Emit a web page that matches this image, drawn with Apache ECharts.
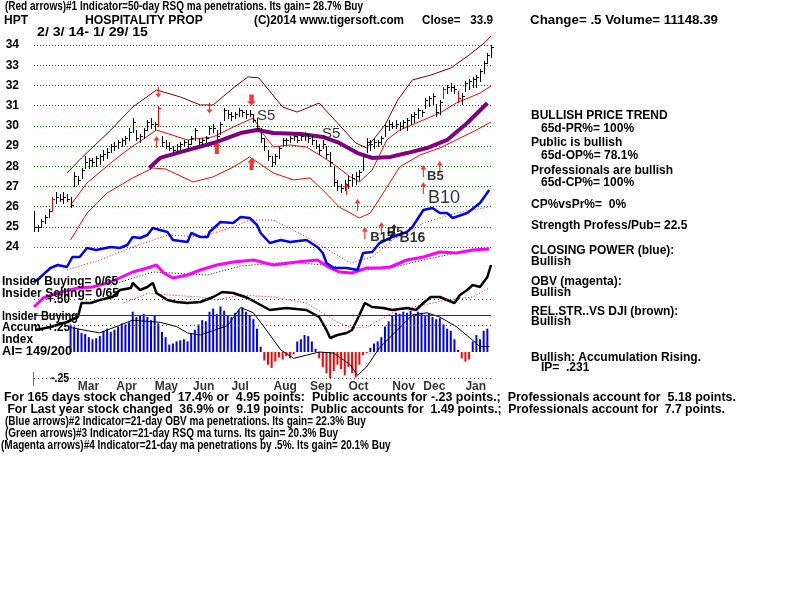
<!DOCTYPE html>
<html><head><meta charset="utf-8">
<script src="https://cdn.jsdelivr.net/npm/echarts@6/dist/echarts.min.js"></script>
<style>html,body{margin:0;padding:0;background:#fff}#c{width:800px;height:600px}</style>
</head><body><div id="c"></div>
<script>
// ---------------- DATA ----------------
// price bars: one bar every 2 trading days from 2/3/14 to 1/29/15
const barLow = [24.8,24.8,25.0,25.2,25.5,25.8,26.2,26.3,26.2,26.3,
26.0,27.0,27.1,27.4,27.9,27.9,28.0,28.0,28.1,28.3,
28.4,28.7,28.8,28.9,29.0,29.1,29.3,29.7,29.3,29.2,
29.4,29.8,29.9,29.8,30.0,29.0,28.9,28.8,28.7,28.7,
28.8,29.0,28.9,29.1,29.3,29.1,29.1,29.2,29.6,29.7,
29.3,29.6,30.3,30.4,30.3,30.4,30.5,30.5,30.4,30.5,
30.2,29.8,29.2,28.8,28.3,28.0,28.1,28.4,29.0,29.1,
29.2,29.3,29.2,29.3,29.3,29.2,29.1,28.9,28.6,28.9,
28.4,28.0,27.0,26.8,26.7,26.8,26.9,27.0,27.1,27.3,
27.8,28.7,28.8,28.9,29.0,29.1,29.5,29.8,29.9,29.9,
29.8,29.9,29.8,30.1,30.2,30.4,30.5,30.9,31.0,31.1,
30.5,30.6,31.4,31.6,31.7,31.6,31.2,31.1,31.7,31.8,
31.9,31.9,32.2,32.6,33.1,33.4];
const barHigh = [25.8,25.1,25.4,25.6,25.9,26.5,26.7,26.6,26.7,26.6,
26.5,27.7,27.5,27.9,28.5,28.4,28.4,28.5,28.6,28.8,
28.9,29.1,29.2,29.3,29.4,29.5,29.9,30.4,29.8,29.6,
29.9,30.3,30.4,30.2,31.0,29.5,29.3,29.2,29.0,29.1,
29.2,29.3,29.3,29.5,29.9,29.4,29.4,29.5,30.0,30.1,
29.8,30.2,30.9,30.8,30.7,30.7,30.9,30.8,30.8,30.8,
30.6,30.4,29.9,29.4,28.8,28.5,28.6,29.0,29.4,29.4,
29.5,29.6,29.5,29.6,29.7,29.6,29.5,29.3,29.1,29.3,
29.0,28.7,28.0,27.3,27.1,27.3,27.5,27.6,27.7,27.8,
28.6,29.4,29.3,29.4,29.3,29.5,30.1,30.3,30.2,30.3,
30.2,30.3,30.4,30.6,30.7,30.9,30.8,31.4,31.5,31.6,
31.1,31.3,31.9,32.0,32.1,32.0,31.7,31.6,32.2,32.3,
32.4,32.5,32.8,33.2,33.6,34.0];
const barClose = [25.0,25.0,25.3,25.5,25.8,26.4,26.5,26.4,26.5,26.4,
26.1,27.5,27.3,27.8,28.2,28.3,28.2,28.4,28.5,28.6,
28.7,29.0,29.0,29.2,29.3,29.4,29.7,30.2,29.4,29.5,
29.8,30.2,30.1,30.1,30.9,29.2,29.0,28.9,28.8,29.0,
29.1,29.2,29.1,29.4,29.8,29.2,29.3,29.4,29.9,29.9,
29.5,30.1,30.8,30.6,30.5,30.6,30.8,30.7,30.6,30.6,
30.3,29.9,29.4,29.0,28.5,28.2,28.5,28.9,29.3,29.3,
29.4,29.5,29.3,29.5,29.6,29.4,29.3,29.0,28.8,29.1,
28.6,28.2,27.2,27.0,26.9,27.1,27.3,27.4,27.5,27.7,
28.5,29.2,29.1,29.2,29.2,29.4,30.0,30.1,30.0,30.1,
30.0,30.2,30.3,30.5,30.6,30.8,30.7,31.3,31.4,31.5,
30.7,31.2,31.8,31.9,31.9,31.8,31.4,31.5,32.1,32.2,
32.3,32.4,32.7,33.1,33.5,33.9];
const redBars = [5, 34, 112, 116];

const upperDays = [18,26,42,54,67,80,91,98,109,117,123,136,144,156,167,176,182,192,199,207,217,228,238,247,250];
const upperVals = [27.66,28.41,29.79,30.93,31.77,31.43,31.03,31.03,31.87,32.42,32.37,30.93,30.68,31.13,30.04,29.15,28.90,30.04,31.28,32.27,32.51,32.86,33.50,34.15,34.45];
const midDays = [20,29,42,51,67,84,98,109,120,125,131,140,149,158,166,173,178,185,193,200,213,222,231,244,250];
const midVals = [26.08,27.17,28.16,28.80,29.79,29.30,29.45,29.94,30.39,29.64,28.95,29.05,28.95,28.46,27.96,27.47,27.22,27.81,29.30,29.79,30.29,30.63,31.13,31.62,31.97];
const lowerDays = [20,29,40,54,65,72,87,98,109,118,131,142,151,158,167,178,184,191,200,211,222,231,242,250];
const lowerVals = [24.35,25.68,26.67,27.42,27.91,27.86,27.22,27.47,27.96,28.46,27.66,27.32,27.42,26.82,25.98,25.44,25.68,26.67,27.96,28.55,28.90,29.30,29.79,30.19];
const ma65Days = [63,69,80,100,113,122,131,146,158,167,177,185,195,204,215,226,237,248];
const ma65Vals = [27.91,28.41,28.70,29.20,29.64,29.79,29.64,29.59,29.45,29.15,28.65,28.41,28.46,28.65,28.90,29.30,30.14,31.13];

const cpDays = [0,3,9,13,18,21,25,29,34,42,47,51,54,58,62,65,69,73,76,84,86,91,95,96,102,109,113,118,122,124,129,135,140,149,155,158,160,164,171,177,180,185,189,196,204,207,213,218,222,226,229,237,244,249];
const cpVals = [-2,2,12,15,13,23,23,32,30,33,32,35,43,42,45,52,50,48,40,38,47,43,43,48,58,57,63,62,55,47,37,40,38,40,33,27,17,12,12,10,27,28,37,43,48,53,70,72,67,67,62,67,77,90];
const cpMaDays = [18,36,54,73,91,109,118,131,149,164,173,185,196,213,231,249];
const cpMaVals = [10,20,33,45,43,53,60,60,43,27,17,23,40,57,67,73];

const obvDays = [0,5,13,24,32,42,54,62,67,71,76,84,91,100,109,120,131,144,155,162,167,174,182,189,195,204,213,222,231,240,249];
const obvVals = [13,22,27,32,33,38,48,52,55,47,42,45,50,55,58,60,55,58,60,52,48,47,52,52,53,60,63,68,67,70,71];
const obvMaDays = [42,65,95,113,140,158,177,195,213,231,249];
const obvMaVals = [35,48,45,54,58,55,50,52,60,67,72];

const rsDays = [1,9,18,24,26,31,36,43,47,53,54,58,62,65,67,73,78,84,91,98,103,109,117,122,129,138,149,156,160,162,166,171,174,178,181,185,191,196,204,209,213,217,222,226,230,233,237,240,244,248,250];
const rsVals = [25,28,33,38,52,52,55,58,65,67,72,65,68,72,62,55,53,52,53,58,63,62,57,52,45,47,45,38,25,17,20,22,25,40,52,48,47,45,47,45,52,58,58,55,52,60,65,70,68,78,90];
const rsMaDays = [49,63,73,91,100,113,131,149,158,167,174,182,189,199,213,226,240,249];
const rsMaVals = [52,62,60,58,55,60,58,52,42,32,27,28,35,45,50,55,58,67];

// accumulation index, one value every 2 trading days starting at day 20
const aiVals = [0.26,0.24,0.22,0.18,0.17,0.14,0.12,0.13,0.15,0.20,
0.22,0.19,0.21,0.24,0.27,0.26,0.28,0.38,0.33,0.34,
0.36,0.33,0.30,0.34,0.27,0.19,0.14,0.07,0.08,0.10,
0.11,0.12,0.10,0.17,0.21,0.26,0.30,0.29,0.38,0.41,
0.36,0.43,0.39,0.34,0.33,0.37,0.40,0.42,0.38,0.34,
0.31,0.22,0.05,-0.08,-0.12,-0.15,-0.09,-0.05,-0.07,-0.04,
-0.06,-0.02,0.10,0.12,0.16,0.15,0.10,0.03,-0.06,-0.14,
-0.20,-0.25,-0.18,-0.12,-0.16,-0.22,-0.14,-0.20,-0.24,-0.12,
-0.03,-0.01,0.04,0.08,0.10,0.14,0.24,0.29,0.35,0.37,
0.36,0.38,0.37,0.39,0.36,0.38,0.37,0.35,0.36,0.33,
0.31,0.32,0.26,0.22,0.20,0.12,0.02,-0.06,-0.09,-0.07,
0.10,0.16,0.12,0.20,0.22];
const aiMaDays = [20,36,54,69,78,84,91,106,113,120,127,135,142,149,156,164,173,177,182,189,199,207,215,222,231,240,244,249];
const aiMaVals = [0.23,0.18,0.30,0.28,0.24,0.18,0.16,0.25,0.42,0.37,0.21,0.02,-0.06,-0.03,0,-0.01,-0.12,-0.22,-0.14,0.04,0.21,0.35,0.37,0.33,0.24,0.11,0.05,0.05];
const aiLevels = [0.5, 0.25, -0.25];
const aiThreshold = 0.35;

const upArrowDays = [67,171,177,213,213,222,181,190];
const upArrowPrices = [29.2,26.87,26.08,27.76,26.92,27.96,24.69,24.94];
const boldUpDays = [100,119];
const boldUpPrices = [28.9,28.11];
const downArrowDays = [68,96];
const downArrowPrices = [31.67,30.88];
const boldDownDays = [119];
const boldDownPrices = [31.28];
const blackArrowDays = [197];
const blackArrowPrices = [24.89];

const sigNames = ['S5','S5','B5','B10','B17','B5','B16'];
const sigDays = [122,157.5,215,215.5,184,193,200];
const sigPrices = [30.49,29.59,27.47,26.43,24.45,24.70,24.45];

const monthNames = ['Mar','Apr','May','Jun','Jul','Aug','Sep','Oct','Nov','Dec','Jan'];
const monthDays = [24,45,66,87,108,131,151,172,196,213,236];
const priceTicks = [24,34,1];

// ---------------- CHART ----------------
const FONT = 'Liberation Sans';
const chart = echarts.init(document.getElementById('c'), null, {renderer:'canvas', width:800, height:600});
const mctx = document.createElement('canvas').getContext('2d');
function measure(str, size, weight){ mctx.font = weight + ' ' + size + 'px "' + FONT + '"'; return mctx.measureText(str).width; }
function T(str, x, y, o){
  o = o || {};
  const size = o.size || 12, weight = o.weight || 'bold';
  let sx = 1;
  if (o.w) sx = o.w / measure(str, size, weight);
  else if (o.sx) sx = o.sx;
  return {type:'text', x:x, y:y, scaleX:sx, z:100, silent:true,
    style:{text:str, fontSize:size, fontWeight:weight, fontFamily:FONT, fill:o.color||'#000',
      align:'left', verticalAlign:'middle', textAlign:'left', textVerticalAlign:'middle'}};
}
const zip = (a,b) => a.map((d,i)=>[d,b[i]]);
function line(days, vals, gi, color, width, type, z){
  return {type:'line', xAxisIndex:gi, yAxisIndex:gi, data:zip(days, vals), symbol:'none', clip:false, silent:true,
    z:z, lineStyle:{color:color, width:width, type:type}, animation:false};
}
const L = 34, W = 457;
const grids = [
  {left:L, width:W, top:45, height:202},    // price 24..34
  {left:L, width:W, top:180, height:100},   // closing power
  {left:L, width:W, top:240, height:80},    // OBV
  {left:L, width:W, top:255, height:100},   // rel strength
  {left:L, width:W, top:299, height:79.5}   // accumulation index
];
const xAxes = grids.map((g,i)=>({type:'value', gridIndex:i, min:0, max:250, show:false}));
const yAxes = [
  {type:'value', gridIndex:0, min:priceTicks[0], max:priceTicks[1], interval:priceTicks[2], position:'left',
    axisLine:{show:false}, axisTick:{show:false},
    axisLabel:{margin:15, fontFamily:FONT, fontWeight:'bold', fontSize:12, color:'#000'},
    splitLine:{show:true, lineStyle:{color:'#008000', width:1, type:[1,2]}}},
  {type:'value', gridIndex:1, min:0, max:100, show:false},
  {type:'value', gridIndex:2, min:0, max:80, show:false},
  {type:'value', gridIndex:3, min:0, max:100, show:false},
  {type:'value', gridIndex:4, min:-0.25, max:0.5, show:false}
];

const upPath = 'path://M5 0L10 6L6 6L6 16L4 16L4 6L0 6Z';
const boldUpPath = 'path://M5 0L10 6L7.5 6L7.5 16L2.5 16L2.5 6L0 6Z';

const series = [];
// accumulation histogram
series.push({type:'bar', xAxisIndex:4, yAxisIndex:4, barWidth:2, z:1, silent:true, animation:false,
  data: aiVals.map((v,k)=>[20+2*k, v]),
  itemStyle:{color:p=> p.value[1] >= 0 ? '#0000ff' : '#ff0000'},
  markLine:{symbol:'none', silent:true, animation:false, label:{show:false},
    data: aiLevels.map(v=>({yAxis:v, lineStyle:{color:'#555', width:1, type:[1,3]}}))
      .concat([{yAxis:aiThreshold, lineStyle:{color:'#800080', width:1, type:'solid'}}])}
});
series.push(line(aiMaDays, aiMaVals, 4, '#000', 1, 'solid', 2));
// rel strength
series.push(line(rsMaDays, rsMaVals, 3, '#ff0000', 1, [1,2], 3));
series.push(line(rsDays, rsVals, 3, '#000', 2.5, 'solid', 3));
// OBV
series.push(line(obvMaDays, obvMaVals, 2, '#000', 1, [1,2], 3));
series.push(line(obvDays, obvVals, 2, '#ff00ff', 3, 'solid', 3));
// closing power
series.push(line(cpMaDays, cpMaVals, 1, '#ff0000', 1, [1,2], 4));
series.push(line(cpDays, cpVals, 1, '#0000ff', 2.5, 'solid', 4));
// bands
series.push(line(upperDays, upperVals, 0, '#800000', 1, 'solid', 4));
series.push(line(midDays, midVals, 0, '#ff0000', 1, 'solid', 4));
series.push(line(lowerDays, lowerVals, 0, '#ff0000', 1, 'solid', 4));
series.push(line(ma65Days, ma65Vals, 0, '#800080', 4, 'solid', 4));
// price bars
series.push({type:'custom', xAxisIndex:0, yAxisIndex:0, clip:false, silent:true, z:5, animation:false,
  data: barLow.map((lo,i)=>[2*i, lo, barHigh[i], barClose[i], redBars.indexOf(i) >= 0 ? 1 : 0]),
  encode:{x:0, y:[1,2]},
  renderItem:function(params, api){
    const d = api.value(0);
    const lo = api.coord([d, api.value(1)]), hi = api.coord([d, api.value(2)]), cl = api.coord([d, api.value(3)]);
    const x = Math.round(lo[0]) + 0.5, col = api.value(4) ? '#ff0000' : '#000';
    const yc = Math.round(cl[1]) + 0.5;
    return {type:'group', children:[
      {type:'line', shape:{x1:x, y1:Math.round(hi[1]), x2:x, y2:Math.round(lo[1])+1}, style:{stroke:col, lineWidth:1}},
      {type:'line', shape:{x1:x, y1:yc, x2:x+2.5, y2:yc}, style:{stroke:col, lineWidth:1}}
    ]};
  }
});
// arrows
function arrows(days, prices, path, size, color, rot){
  return {type:'scatter', xAxisIndex:0, yAxisIndex:0, clip:false, silent:true, z:6, animation:false,
    data:zip(days, prices), symbol:path, symbolSize:size, symbolRotate:rot, itemStyle:{color:color}};
}
series.push(arrows(upArrowDays, upArrowPrices, upPath, [6,12], '#ff0000', 0));
series.push(arrows(boldUpDays, boldUpPrices, boldUpPath, [8,12], '#ff0000', 0));
series.push(arrows(downArrowDays, downArrowPrices, upPath, [6,11], '#ff0000', 180));
series.push(arrows(boldDownDays, boldDownPrices, boldUpPath, [9,11], '#ff0000', 180));
series.push(arrows(blackArrowDays, blackArrowPrices, upPath, [6,10], '#000', 0));
// signal labels
const sigStyle = {S5:{s:15,w:'normal'}, B10:{s:18,w:'normal'}, B5:{s:13,w:'bold'}, B17:{s:13,w:'bold'}, B16:{s:14,w:'bold'}};
series.push({type:'scatter', xAxisIndex:0, yAxisIndex:0, clip:false, silent:true, z:7, animation:false,
  symbolSize:1, itemStyle:{color:'rgba(0,0,0,0)'},
  data: sigDays.map((d,i)=>({value:[d, sigPrices[i]], name:sigNames[i],
    label:{show:true, position:'inside', align:'left', verticalAlign:'middle', formatter:'{b}',
      fontFamily:FONT, fontSize:sigStyle[sigNames[i]].s, fontWeight:sigStyle[sigNames[i]].w, color:'#000'}}))
});
// month labels
series.push({type:'scatter', xAxisIndex:4, yAxisIndex:4, clip:false, silent:true, z:7, animation:false,
  symbolSize:1, itemStyle:{color:'rgba(0,0,0,0)'},
  data: monthDays.map((d,i)=>({value:[d, -0.25], name:monthNames[i]})),
  label:{show:true, position:'inside', align:'left', verticalAlign:'middle', offset:[0,8], formatter:'{b}',
    fontFamily:FONT, fontSize:12, fontWeight:'bold', color:'#000'}
});

// texts
const row1 = '(Red arrows)#1 Indicator=50-day RSQ ma penetrations. Its gain= 28.7% Buy';
const kTitle = 358 / measure(row1, 12, 'bold');
const graphics = [
  T(row1, 5, 7, {w:358}),
  T('HPT', 4, 21),
  T('HOSPITALITY PROP', 85, 21, {w:118}),
  T('(C)2014 www.tigersoft.com', 254, 21, {w:150}),
  T('Close=   33.9', 422, 21, {w:71}),
  T('Change= .5 Volume= 11148.39', 530, 21, {w:188}),
  T('2/ 3/ 14- 1/ 29/ 15', 37, 33, {w:111}),
  T('BULLISH PRICE TREND', 531, 116),
  T('65d-PR%= 100%', 541, 129),
  T('Public is bullish', 531, 143),
  T('65d-OP%= 78.1%', 541, 156),
  T('Professionals are bullish', 531, 171),
  T('65d-CP%= 100%', 541, 183),
  T('CP%vsPr%=  0%', 531, 205),
  T('Strength Profess/Pub= 22.5', 531, 226),
  T('CLOSING POWER (blue):', 531, 251),
  T('Bullish', 531, 262),
  T('OBV (magenta):', 531, 282),
  T('Bullish', 531, 293),
  T('REL.STR..VS DJI (brown):', 531, 312),
  T('Bullish', 531, 322),
  T('Bullish: Accumulation Rising.', 531, 358),
  T('IP=  .231', 541, 368),
  T('Insider Buying= 0/65', 2, 282, {w:116}),
  T('Insider Selling= 0/65', 2, 294, {w:117}),
  T('+.50', 47, 300, {w:23}),
  T('Insider Buying', 2, 317, {w:76}),
  T('Accum.', 2, 328, {w:42}),
  T('+.25', 47, 328, {w:23}),
  T('Index', 2, 340, {w:31}),
  T('AI= 149/200', 2, 352, {w:70}),
  T('-.25', 51, 379, {w:18}),
  T('For 165 days stock changed  17.4% or  4.95 points:  Public accounts for -.23 points.;  Professionals account for  5.18 points.', 4, 398, {w:732}),
  T(' For Last year stock changed  36.9% or  9.19 points:  Public accounts for  1.49 points.;  Professionals account for  7.7 points.', 4, 410, {w:721}),
  T('(Blue arrows)#2 Indicator=21-day OBV ma penetrations. Its gain= 22.3% Buy', 5, 422, {sx:kTitle}),
  T('(Green arrows)#3 Indicator=21-day RSQ ma turns. Its gain= 20.3% Buy', 5, 434, {sx:kTitle}),
  T('(Magenta arrows)#4 Indicator=21-day ma penetrations by .5%. Its gain= 20.1% Buy', 1, 446, {sx:kTitle}),
  {type:'line', z:100, silent:true, shape:{x1:33.5, y1:372, x2:33.5, y2:386}, style:{stroke:'#808000', lineWidth:1}}
];

chart.setOption({
  animation:false,
  backgroundColor:'#fff',
  grid:grids, xAxis:xAxes, yAxis:yAxes, series:series, graphic:graphics
});
</script>
</body></html>
